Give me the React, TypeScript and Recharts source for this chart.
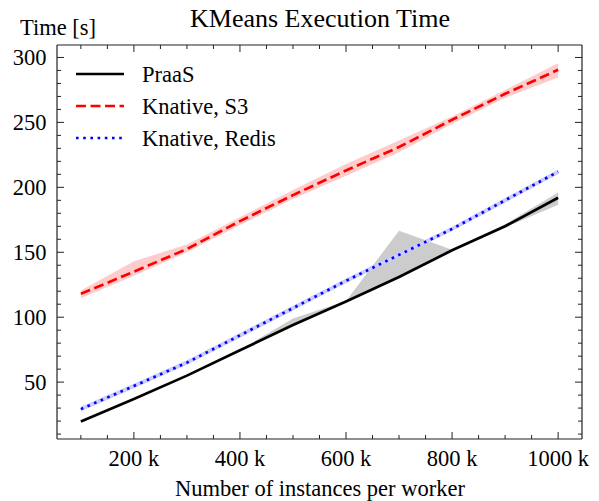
import React from 'react';
import { ComposedChart, Line, Area, XAxis, YAxis } from 'recharts';

// instances per worker
const instances = [100000, 200000, 300000, 400000, 500000, 600000, 700000, 800000, 900000, 1000000];

// execution time [s], mean and spread
const praasTime = [19.7, 37, 55, 74.5, 94, 112, 131, 151.5, 170, 192];
const praasLow = [19.2, 36.5, 54.5, 74, 93.5, 111.5, 130.5, 151, 169, 186.5];
const praasHigh = [20.2, 37.5, 55.5, 75, 99, 112.5, 166.5, 152, 171.5, 196];

const s3Time = [118, 135, 152.5, 174, 194, 213, 231, 252, 272, 290.5];
const s3Low = [114.5, 132, 150, 171, 191, 209, 227, 249, 269, 284.5];
const s3High = [120.5, 143, 156, 177, 198, 218, 236, 254.5, 275, 295.5];

const redisTime = [29.2, 47, 65, 86, 107, 128, 148, 168, 190, 212];
const redisLow = [27.5, 45.3, 63.3, 84.2, 105.2, 126.3, 146.2, 166.3, 188.2, 210.2];
const redisHigh = [31, 48.7, 66.8, 87.8, 108.8, 129.7, 149.8, 169.7, 191.8, 213.8];

const xTicks = [
  100000, 150000, 200000, 250000, 300000, 350000, 400000, 450000, 500000, 550000,
  600000, 650000, 700000, 750000, 800000, 850000, 900000, 950000, 1000000,
];
const xMajor = [200000, 400000, 600000, 800000, 1000000];
const yTicks = [
  10, 20, 30, 40, 50, 60, 70, 80, 90, 100, 110, 120, 130, 140, 150,
  160, 170, 180, 190, 200, 210, 220, 230, 240, 250, 260, 270, 280, 290, 300,
];
const yMajor = [50, 100, 150, 200, 250, 300];

const legendItems = [
  { name: 'PraaS', color: '#000000', dash: undefined },
  { name: 'Knative, S3', color: '#ff0000', dash: '10 4.5' },
  { name: 'Knative, Redis', color: '#0000ff', dash: '2.6 4.6' },
];

const chartData = instances.map((n, i) => ({
  n,
  praas: praasTime[i],
  praasBand: [praasLow[i], praasHigh[i]],
  s3: s3Time[i],
  s3Band: [s3Low[i], s3High[i]],
  redis: redisTime[i],
  redisBand: [redisLow[i], redisHigh[i]],
}));

const FONT = '"Liberation Serif", "Times New Roman", serif';
const INK = '#222222';
const W = 591;
const H = 493;
const X_DOMAIN = [55000, 1045000];
const Y_DOMAIN = [6.2, 309.6];
const LABEL_SIZE = 22.5;

// inward ticks like the matplotlib style, labels only on the majors
function makeTick(side: 'bottom' | 'top' | 'left' | 'right', majors: number[]) {
  // eslint-disable-next-line @typescript-eslint/no-explicit-any
  return (props: any) => {
    const { x, y, payload } = props;
    const v = payload.value;
    const major = majors.includes(v);
    const len = major ? 7 : 4;
    let line;
    if (side === 'bottom') line = <line x1={x} y1={y} x2={x} y2={y - len} />;
    else if (side === 'top') line = <line x1={x} y1={y} x2={x} y2={y + len} />;
    else if (side === 'left') line = <line x1={x} y1={y} x2={x + len} y2={y} />;
    else line = <line x1={x} y1={y} x2={x - len} y2={y} />;
    return (
      <g>
        <g stroke={INK} strokeWidth={1}>{line}</g>
        {major && side === 'bottom' && (
          <text x={x} y={y + 26.5} textAnchor="middle" fontFamily={FONT} fontSize={LABEL_SIZE} fill="#000">
            {`${v / 1000} k`}
          </text>
        )}
        {major && side === 'left' && (
          <text x={x - 10.5} y={y + 7.5} textAnchor="end" fontFamily={FONT} fontSize={LABEL_SIZE} fill="#000">
            {v}
          </text>
        )}
      </g>
    );
  };
}

export default function App() {
  return (
    <div style={{ position: 'relative', width: W, height: H }}>
      <ComposedChart
        width={W}
        height={H}
        data={chartData}
        margin={{ top: 36, right: 16, left: 0, bottom: 32 }}
      >
        <XAxis
          dataKey="n"
          type="number"
          domain={X_DOMAIN}
          ticks={xTicks}
          interval={0}
          allowDataOverflow
          height={30}
          tickLine={false}
          tickSize={0}
          tickMargin={0}
          axisLine={{ stroke: INK, strokeWidth: 1.2 }}
          tick={makeTick('bottom', xMajor)}
        />
        <XAxis
          xAxisId="top"
          orientation="top"
          dataKey="n"
          type="number"
          domain={X_DOMAIN}
          ticks={xTicks}
          interval={0}
          allowDataOverflow
          height={1}
          tickLine={false}
          tickSize={0}
          tickMargin={0}
          axisLine={{ stroke: INK, strokeWidth: 1.2 }}
          tick={makeTick('top', xMajor)}
        />
        <YAxis
          type="number"
          domain={Y_DOMAIN}
          ticks={yTicks}
          interval={0}
          allowDataOverflow
          width={49}
          tickLine={false}
          tickSize={0}
          tickMargin={0}
          axisLine={{ stroke: INK, strokeWidth: 1.2 }}
          tick={makeTick('left', yMajor)}
        />
        <YAxis
          yAxisId="right"
          orientation="right"
          type="number"
          domain={Y_DOMAIN}
          ticks={yTicks}
          interval={0}
          allowDataOverflow
          width={1}
          tickLine={false}
          tickSize={0}
          tickMargin={0}
          axisLine={{ stroke: INK, strokeWidth: 1.2 }}
          tick={makeTick('right', yMajor)}
        />
        <Area dataKey="praasBand" type="linear" stroke="none" fill="#cccccc" fillOpacity={1} isAnimationActive={false} />
        <Area dataKey="s3Band" type="linear" stroke="none" fill="#ffcccc" fillOpacity={1} isAnimationActive={false} />
        <Area dataKey="redisBand" type="linear" stroke="none" fill="#ccccff" fillOpacity={1} isAnimationActive={false} />
        <Line dataKey="praas" type="linear" stroke="#000000" strokeWidth={2.7} dot={false} isAnimationActive={false} />
        <Line dataKey="s3" type="linear" stroke="#ff0000" strokeWidth={2.7} strokeDasharray="10 4.5" dot={false} isAnimationActive={false} />
        <Line dataKey="redis" type="linear" stroke="#0000ff" strokeWidth={2.7} strokeDasharray="2.6 4.6" dot={false} isAnimationActive={false} />
      </ComposedChart>

      {/* title, axis labels and legend, in page coordinates */}
      <svg
        width={599}
        height={501}
        style={{ position: 'absolute', left: -8, top: -8, pointerEvents: 'none' }}
        fontFamily={FONT}
      >
        <text x={320} y={27} textAnchor="middle" fontSize={26} fill="#000">KMeans Execution Time</text>
        <text x={20} y={35} fontSize={LABEL_SIZE} fill="#000">Time [s]</text>
        <text x={320} y={496} textAnchor="middle" fontSize={LABEL_SIZE} fill="#000">Number of instances per worker</text>
        {legendItems.map((item, i) => {
          const cy = 74 + i * 32;
          return (
            <g key={item.name}>
              <line x1={76} y1={cy} x2={124} y2={cy} stroke={item.color} strokeWidth={2.7} strokeDasharray={item.dash} />
              <text x={142} y={cy + 7.5} fontSize={LABEL_SIZE} fill="#000">{item.name}</text>
            </g>
          );
        })}
      </svg>
    </div>
  );
}
